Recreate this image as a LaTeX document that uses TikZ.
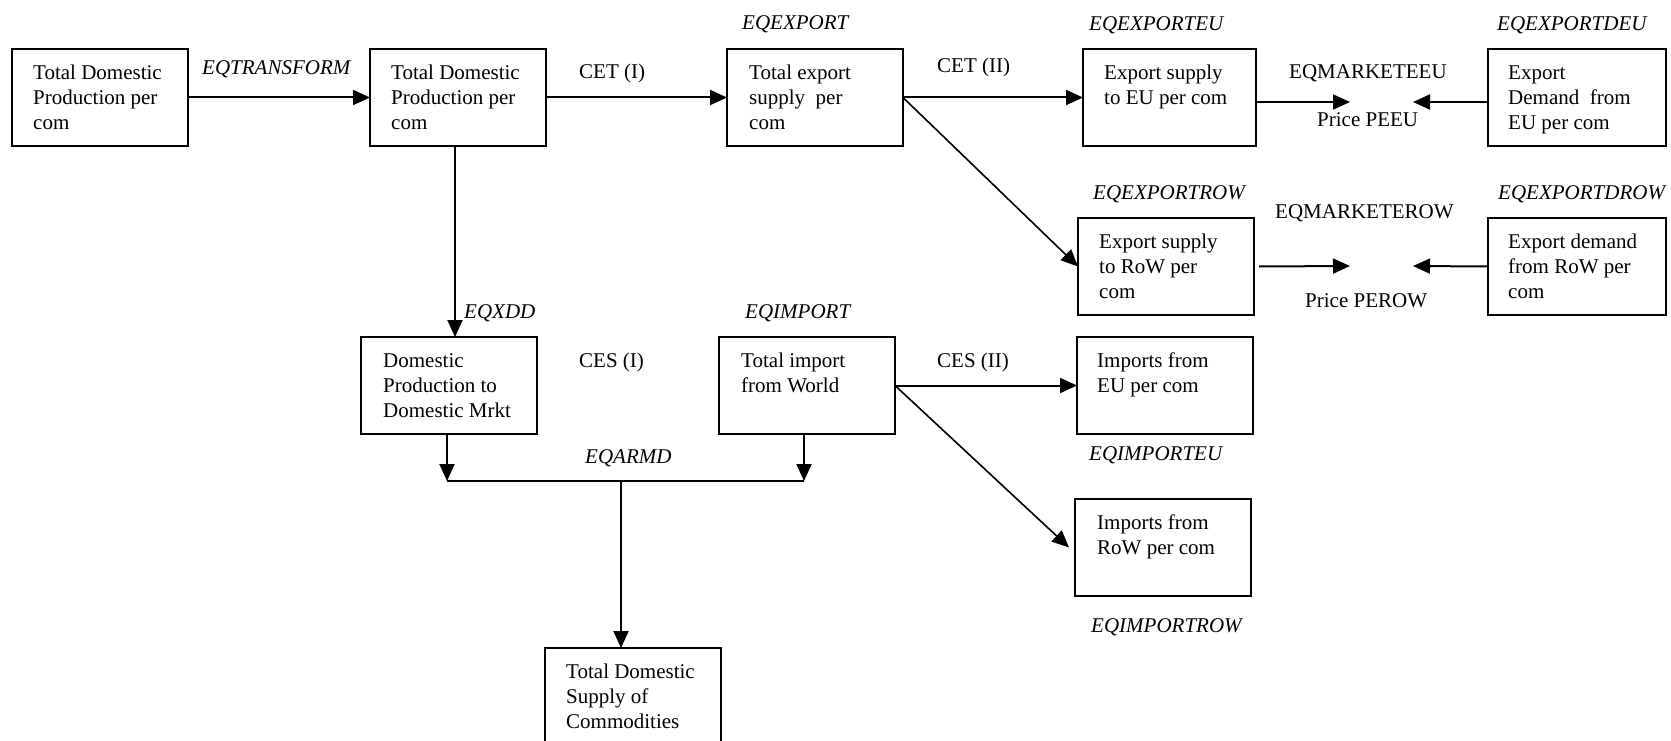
\documentclass[tikz,border=0pt]{standalone}
\usepackage{fontspec}
\setmainfont{Liberation Serif}
\usetikzlibrary{arrows.meta}
\begin{document}
\begin{tikzpicture}[x=1pt,y=-1pt,
  box/.style={draw, line width=2pt, anchor=north west, minimum width=176pt,
    minimum height=97pt, inner sep=0pt, outer sep=0pt},
  boxtext/.style={anchor=north west, inner sep=0pt, align=left,
    font=\fontsize{21}{25}\selectfont},
  eq/.style={anchor=base west, inner sep=0pt, font=\fontsize{21}{25}\selectfont\itshape},
  lbl/.style={anchor=base west, inner sep=0pt, font=\fontsize{21}{25}\selectfont},
  conn/.style={line width=2pt, -{Triangle[length=17pt,width=15pt]}},
  diag/.style={line width=1.6pt, -{Triangle[length=17pt,width=15pt]}},
  plain/.style={line width=2pt}]
\useasboundingbox (0,0) rectangle (1671,741);

% boxes
\node[box] (b1) at (12,49) {};
\node[box] (b2) at (370,49) {};
\node[box] (b3) at (727,49) {};
\node[box, minimum width=173pt] (b4) at (1083,49) {};
\node[box, minimum width=178pt] (b5) at (1488,49) {};
\node[box] (b6) at (1078,218) {};
\node[box, minimum width=178pt] (b7) at (1488,218) {};
\node[box] (b8) at (361,337) {};
\node[box] (b9) at (719,337) {};
\node[box] (b10) at (1077,337) {};
\node[box] (b11) at (1075,499) {};
\node[box] (b12) at (545,648) {};

% box contents
\node[boxtext] (t1) at ([shift={(21,12.5)}]b1.north west) {\strut Total Domestic\\Production per\\com};
\node[boxtext] (t2) at ([shift={(21,12.5)}]b2.north west) {\strut Total Domestic\\Production per\\com};
\node[boxtext] (t3) at ([shift={(22,12.5)}]b3.north west) {\strut Total export\\supply\ \ per\\com};
\node[boxtext] (t4) at ([shift={(21,12.5)}]b4.north west) {\strut Export supply\\to EU per com};
\node[boxtext] (t5) at ([shift={(20,12.5)}]b5.north west) {\strut Export\\Demand\ \ from\\EU per com};
\node[boxtext] (t6) at ([shift={(21,12.5)}]b6.north west) {\strut Export supply\\to RoW per\\com};
\node[boxtext] (t7) at ([shift={(20,12.5)}]b7.north west) {\strut Export demand\\from RoW per\\com};
\node[boxtext] (t8) at ([shift={(22,12.5)}]b8.north west) {\strut Domestic\\Production to\\Domestic Mrkt};
\node[boxtext] (t9) at ([shift={(22,12.5)}]b9.north west) {\strut Total import\\from World};
\node[boxtext] (t10) at ([shift={(20,12.5)}]b10.north west) {\strut Imports from\\EU per com};
\node[boxtext] (t11) at ([shift={(22,12.5)}]b11.north west) {\strut Imports from\\RoW per com};
\node[boxtext] (t12) at ([shift={(21,12.5)}]b12.north west) {\strut Total Domestic\\Supply of\\Commodities};

% equation names and labels
\node[eq] (eqtransform) at (202,75) {EQTRANSFORM};
\node[lbl] (cet1) at (579,79) {CET (I)};
\node[eq] (eqexport) at (742,30) {EQEXPORT};
\node[lbl] (cet2) at (937,73) {CET (II)};
\node[eq] (eqexporteu) at (1089,31) {EQEXPORTEU};
\node[lbl] (mkteu) at (1289,79) {EQMARKETEEU};
\node[lbl] (peeu) at (1317,127) {Price PEEU};
\node[eq] (eqexportdeu) at (1497,31) {EQEXPORTDEU};
\node[eq] (eqexportrow) at (1093,199) {EQEXPORTROW};
\node[lbl] (mktrow) at (1275,218) {EQMARKETEROW};
\node[lbl] (perow) at (1305,307) {Price PEROW};
\node[eq] (eqexportdrow) at (1498,199) {EQEXPORTDROW};
\node[eq] (eqxdd) at (464,318) {EQXDD};
\node[eq] (eqimport) at (745,318) {EQIMPORT};
\node[lbl] (ces1) at (579,367) {CES (I)};
\node[lbl] (ces2) at (937,367) {CES (II)};
\node[eq] (eqarmd) at (585,463) {EQARMD};
\node[eq] (eqimporteu) at (1089,460) {EQIMPORTEU};
\node[eq] (eqimportrow) at (1091,632) {EQIMPORTROW};

% market points and junction
\coordinate (peL) at (1350,102);
\coordinate (peR) at (1413,102);
\coordinate (prL) at (1350,266);
\coordinate (prR) at (1413,266);
\coordinate (jn) at (621,481);

% connectors
\draw[conn] (b1.east) -- (b2.west);
\draw[conn] (b2.east) -- (b3.west);
\draw[conn] (b3.east) -- (b4.west);
\draw[diag] (b3.east) -- (b6.west);
\draw[conn] (b4.east |- peL) -- (peL);
\draw[conn] (b5.west |- peR) -- (peR);
\draw[conn] ([xshift=5pt]b6.east) -- (prL);
\draw[conn] (b7.west) -- (prR);
\draw[conn] ([xshift=-3pt]b2.south) -- ([xshift=-3pt]b2.south |- b8.north);
\draw[conn] ([xshift=-2pt]b8.south) -- ([xshift=-2pt]b8.south |- jn);
\draw[conn] ([xshift=-3pt]b9.south) -- ([xshift=-3pt]b9.south |- jn);
\draw[plain] ([xshift=-2pt]b8.south |- jn) -- ([xshift=-3pt]b9.south |- jn);
\draw[conn] (jn) -- (jn |- b12.north);
\draw[conn] (b9.east) -- (b10.west);
\draw[diag] (b9.east) -- ([xshift=-6pt]b11.west);
\end{tikzpicture}
\end{document}
